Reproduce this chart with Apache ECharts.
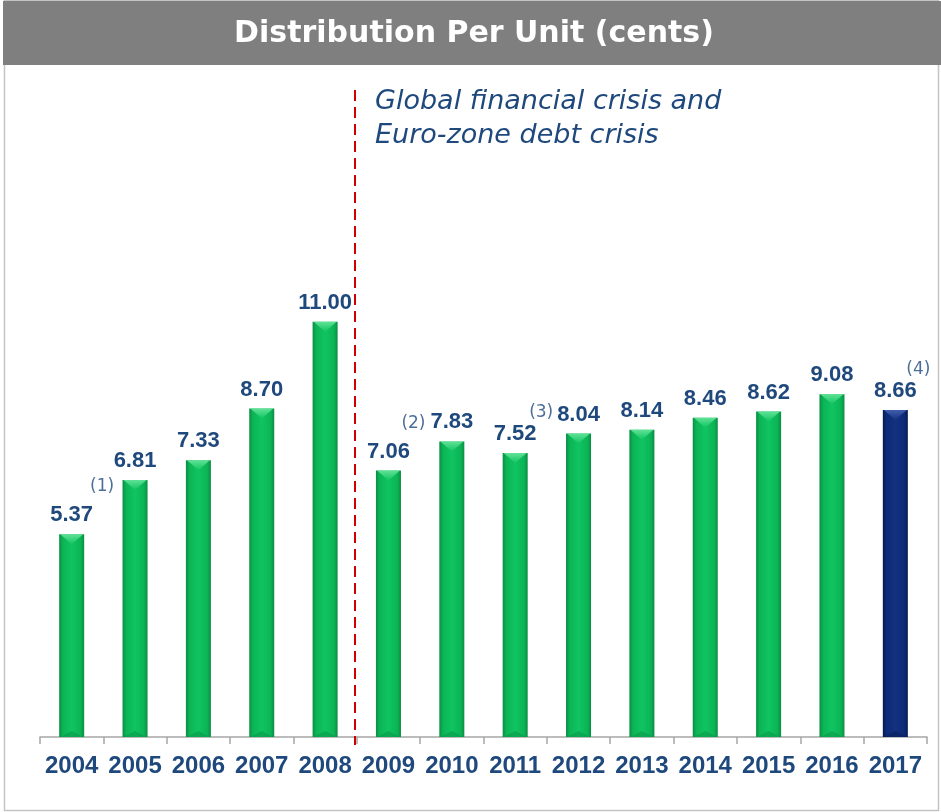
<!DOCTYPE html>
<html>
<head>
<meta charset="utf-8">
<title>Distribution Per Unit (cents)</title>
<script src="https://cdn.jsdelivr.net/npm/echarts@6/dist/echarts.min.js"></script>
<style>
  html, body { margin: 0; padding: 0; background: #ffffff; }
  #chart { width: 941px; height: 812px; }
</style>
</head>
<body>
<div id="chart"></div>
<script>
// Distribution per unit by financial year, in cents
const years = ['2004', '2005', '2006', '2007', '2008', '2009', '2010',
               '2011', '2012', '2013', '2014', '2015', '2016', '2017'];
const dpu = [5.37, 6.81, 7.33, 8.70, 11.00, 7.06, 7.83,
             7.52, 8.04, 8.14, 8.46, 8.62, 9.08, 8.66];
const highlightYear = '2017';

// Footnote markers attached to particular years
const noteYears = ['2005', '2009', '2011', '2017'];
const noteMarks = ['(1)', '(2)', '(3)', '(4)'];

const titleText = 'Distribution Per Unit (cents)';
const crisisText = ['Global financial crisis and', 'Euro-zone debt crisis'];
const crisisAfter = '2008';

const NAVY = '#1F497D';
const NUM_FONT = '"Liberation Sans", Arial, sans-serif';
const WIDE_FONT = '"DejaVu Sans", sans-serif';

// where each footnote sits relative to the top of its bar
const noteOffsets = [[-33, 7], [25, -47], [26, -41], [23, -41]];

const chart = echarts.init(document.getElementById('chart'), null, { renderer: 'canvas' });

function barPalette(isDark) {
  return isDark
    ? { edge: '#061a4e', mid: '#0d2a78', center: '#13317f', cap: '#4563b0', base: '#08205c' }
    : { edge: '#0a8c43', mid: '#0bb455', center: '#10c462', cap: '#6ae69c', base: '#0a9a4a' };
}

function renderBar(params, api) {
  const idx = api.value(0);
  const val = api.value(1);
  const top = api.coord([idx, val]);
  const bottom = api.coord([idx, 0]);
  const w = 25;
  const x = top[0] - w / 2;
  const h = bottom[1] - top[1];
  const p = barPalette(years[idx] === highlightYear);
  const capH = 10;
  return {
    type: 'group',
    children: [
      {
        type: 'rect',
        shape: { x: x, y: top[1], width: w, height: h },
        style: {
          fill: new echarts.graphic.LinearGradient(0, 0, 1, 0, [
            { offset: 0, color: p.edge },
            { offset: 0.14, color: p.mid },
            { offset: 0.5, color: p.center },
            { offset: 0.86, color: p.mid },
            { offset: 1, color: p.edge }
          ]),
          shadowBlur: 5,
          shadowColor: 'rgba(0,0,0,0.28)',
          shadowOffsetX: 1,
          shadowOffsetY: 0
        }
      },
      {
        type: 'polygon',
        shape: { points: [[x + 1, top[1]], [x + w - 1, top[1]], [x + w / 2, top[1] + capH]] },
        style: {
          fill: new echarts.graphic.LinearGradient(0, 0, 0, 1, [
            { offset: 0, color: p.cap },
            { offset: 1, color: p.center }
          ]),
          opacity: 0.9
        }
      },
      {
        type: 'polygon',
        shape: { points: [[x + 1, bottom[1]], [x + w - 1, bottom[1]], [x + w / 2, bottom[1] - 6]] },
        style: { fill: p.base, opacity: 0.6 }
      },
      {
        // value label above the bar
        type: 'text',
        style: {
          text: val.toFixed(2),
          x: top[0],
          y: top[1] - 8,
          textAlign: 'center',
          textVerticalAlign: 'bottom',
          fill: NAVY,
          font: 'bold 22px ' + NUM_FONT
        }
      }
    ]
  };
}

const barData = dpu.map((v, i) => [i, v]);
const noteData = noteYears.map((y, k) => {
  const i = years.indexOf(y);
  return {
    value: [i, dpu[i]],
    label: { offset: noteOffsets[k] },
    mark: noteMarks[k]
  };
});

chart.setOption({
  animation: false,
  backgroundColor: '#ffffff',
  grid: { left: 40, right: 14, top: 133, bottom: 75 },
  xAxis: {
    type: 'category',
    data: years,
    boundaryGap: true,
    axisLine: { lineStyle: { color: '#a6a6a6', width: 1.5 } },
    axisTick: { show: true, interval: 0, length: 7, lineStyle: { color: '#a6a6a6', width: 1.5 } },
    axisLabel: {
      interval: 0,
      color: NAVY,
      fontFamily: NUM_FONT,
      fontWeight: 'bold',
      fontSize: 24,
      margin: 17
    }
  },
  yAxis: {
    type: 'value',
    min: 0,
    max: 16,
    show: false,
    splitLine: { show: false }
  },
  series: [
    {
      type: 'custom',
      renderItem: renderBar,
      encode: { x: 0, y: 1 },
      data: barData,
      z: 3
    },
    {
      type: 'scatter',
      symbolSize: 0,
      data: noteData,
      label: {
        show: true,
        position: 'inside',
        formatter: (p) => p.data.mark,
        color: NAVY,
        fontFamily: WIDE_FONT,
        fontSize: 17,
        align: 'center',
        verticalAlign: 'middle'
      },
      z: 4
    }
  ]
});

// Header band, frame, crisis divider and annotation
const i0 = years.indexOf(crisisAfter);
const a = chart.convertToPixel({ xAxisIndex: 0 }, years[i0]);
const b = chart.convertToPixel({ xAxisIndex: 0 }, years[i0 + 1]);
const divX = Math.round((a + b) / 2) - 2;

chart.setOption({
  graphic: [
    {
      type: 'rect',
      shape: { x: 4.5, y: 0.5, width: 934, height: 810 },
      style: { fill: 'none', stroke: '#c4c4c4', lineWidth: 1.5 },
      z: 1
    },
    {
      type: 'rect',
      shape: { x: 3, y: 1, width: 938, height: 64 },
      style: { fill: '#7f7f7f' },
      z: 2
    },
    {
      type: 'text',
      x: 474,
      y: 34,
      style: {
        text: titleText,
        fill: '#ffffff',
        font: 'bold 30px ' + WIDE_FONT,
        textAlign: 'center',
        textVerticalAlign: 'middle'
      },
      z: 3
    },
    {
      type: 'line',
      shape: { x1: divX, y1: 90, x2: divX, y2: 745 },
      style: { stroke: '#d00000', lineWidth: 2, lineDash: [11, 6] },
      z: 5
    },
    {
      type: 'text',
      x: divX + 20,
      y: 85,
      style: {
        text: crisisText.join('\n'),
        fill: NAVY,
        font: 'italic 27px ' + WIDE_FONT,
        lineHeight: 34,
        textAlign: 'left',
        textVerticalAlign: 'top'
      },
      z: 5
    }
  ]
});
</script>
</body>
</html>
